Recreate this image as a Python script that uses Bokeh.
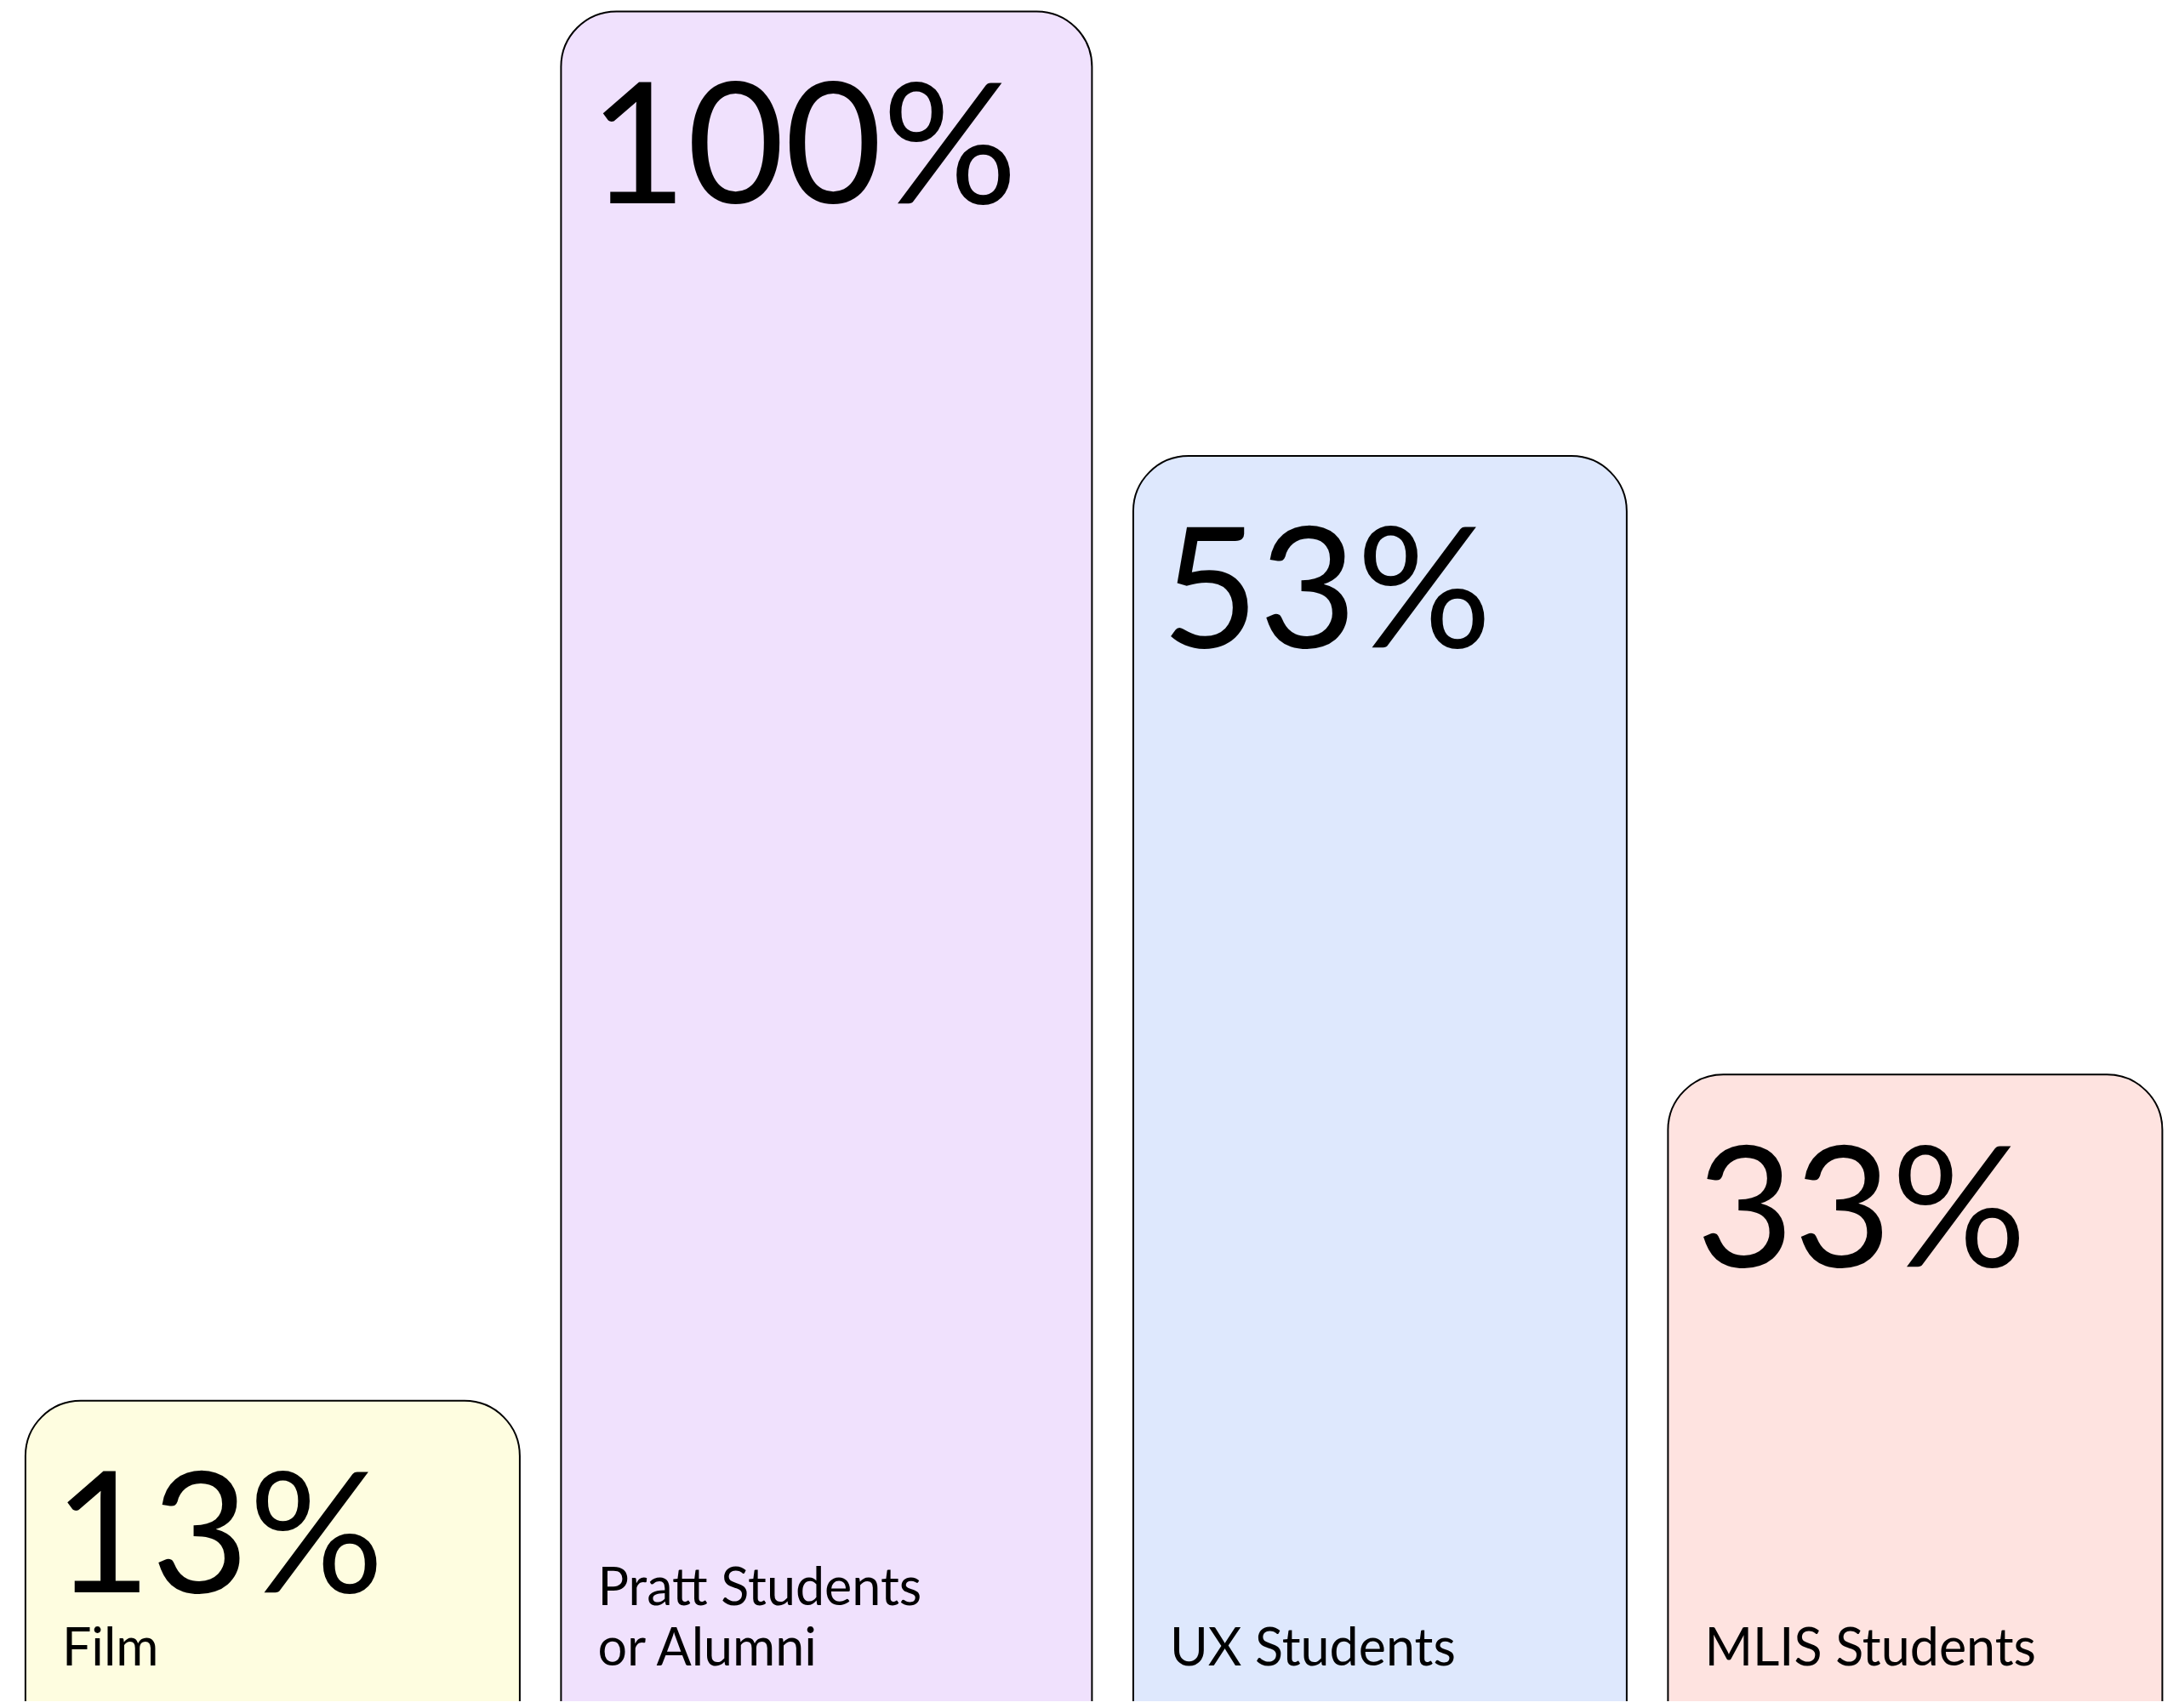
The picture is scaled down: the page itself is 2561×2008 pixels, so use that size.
from bokeh.plotting import figure
from bokeh.models import Range1d, ColumnDataSource
from bokeh.core.properties import value
from bokeh.embed import file_html
from bokeh.resources import INLINE

# ---- data ----
categories = ["Film", "Pratt Students\nor Alumni", "UX Students", "MLIS Students"]
values = [13, 100, 53, 33]                      # shown percentages
bar_heights = [17.8, 100.0, 73.7, 37.1]         # drawn height of each card (% of tallest)
colors = ["#FEFDE0", "#F0E1FD", "#DEE8FD", "#FEE3E0"]

# ---- layout ----
FIG_W, FIG_H = 2553, 2000
card_widths = [581, 624, 580, 581]
gap = 48.5
start = 29.4
TOP_PAD = 13
Y_MAX = 100.0 * FIG_H / (FIG_H - TOP_PAD)
k = FIG_H / Y_MAX  # px per data unit
BASE_SHIFT = 0.385  # em offset of rendered baseline

PCT_SIZE = 198
LBL_SIZE = 61

lefts, rights = [], []
x = start
for w in card_widths:
    lefts.append(x)
    rights.append(x + w)
    x += w + gap

p = figure(width=FIG_W, height=FIG_H, output_backend="svg", toolbar_location=None,
           x_range=Range1d(0, FIG_W), y_range=Range1d(0, Y_MAX),
           min_border=0, outline_line_color=None, background_fill_color="white",
           border_fill_color="white")
p.axis.visible = False
p.grid.visible = False

src = ColumnDataSource(dict(left=lefts, right=rights, top=bar_heights,
                            bottom=[-20] * 4, color=colors))
p.quad(left="left", right="right", top="top", bottom="bottom", source=src,
       fill_color="color", line_color="black", line_width=2, border_radius=65)

pct_x = [l + 33 for l in lefts]
pct_y = [h - (225 - BASE_SHIFT * PCT_SIZE) / k for h in bar_heights]
p.text(x=pct_x, y=pct_y, text=[f"{v}%" for v in values],
       text_font=value("Lato"), text_font_size=f"{PCT_SIZE}px", text_color="black",
       text_baseline="alphabetic", text_align="left")

lx, ly, lt = [], [], []
for l, c in zip(lefts, categories):
    lines = c.split("\n")
    for i, line in enumerate(reversed(lines)):
        lx.append(l + 43)
        ly.append((43 + BASE_SHIFT * LBL_SIZE + i * 71) / k)
        lt.append(line)
p.text(x=lx, y=ly, text=lt, text_font=value("Lato"), text_font_size=f"{LBL_SIZE}px",
       text_color="black", text_baseline="alphabetic", text_align="left")

open("out.html", "w").write(file_html(p, INLINE))
